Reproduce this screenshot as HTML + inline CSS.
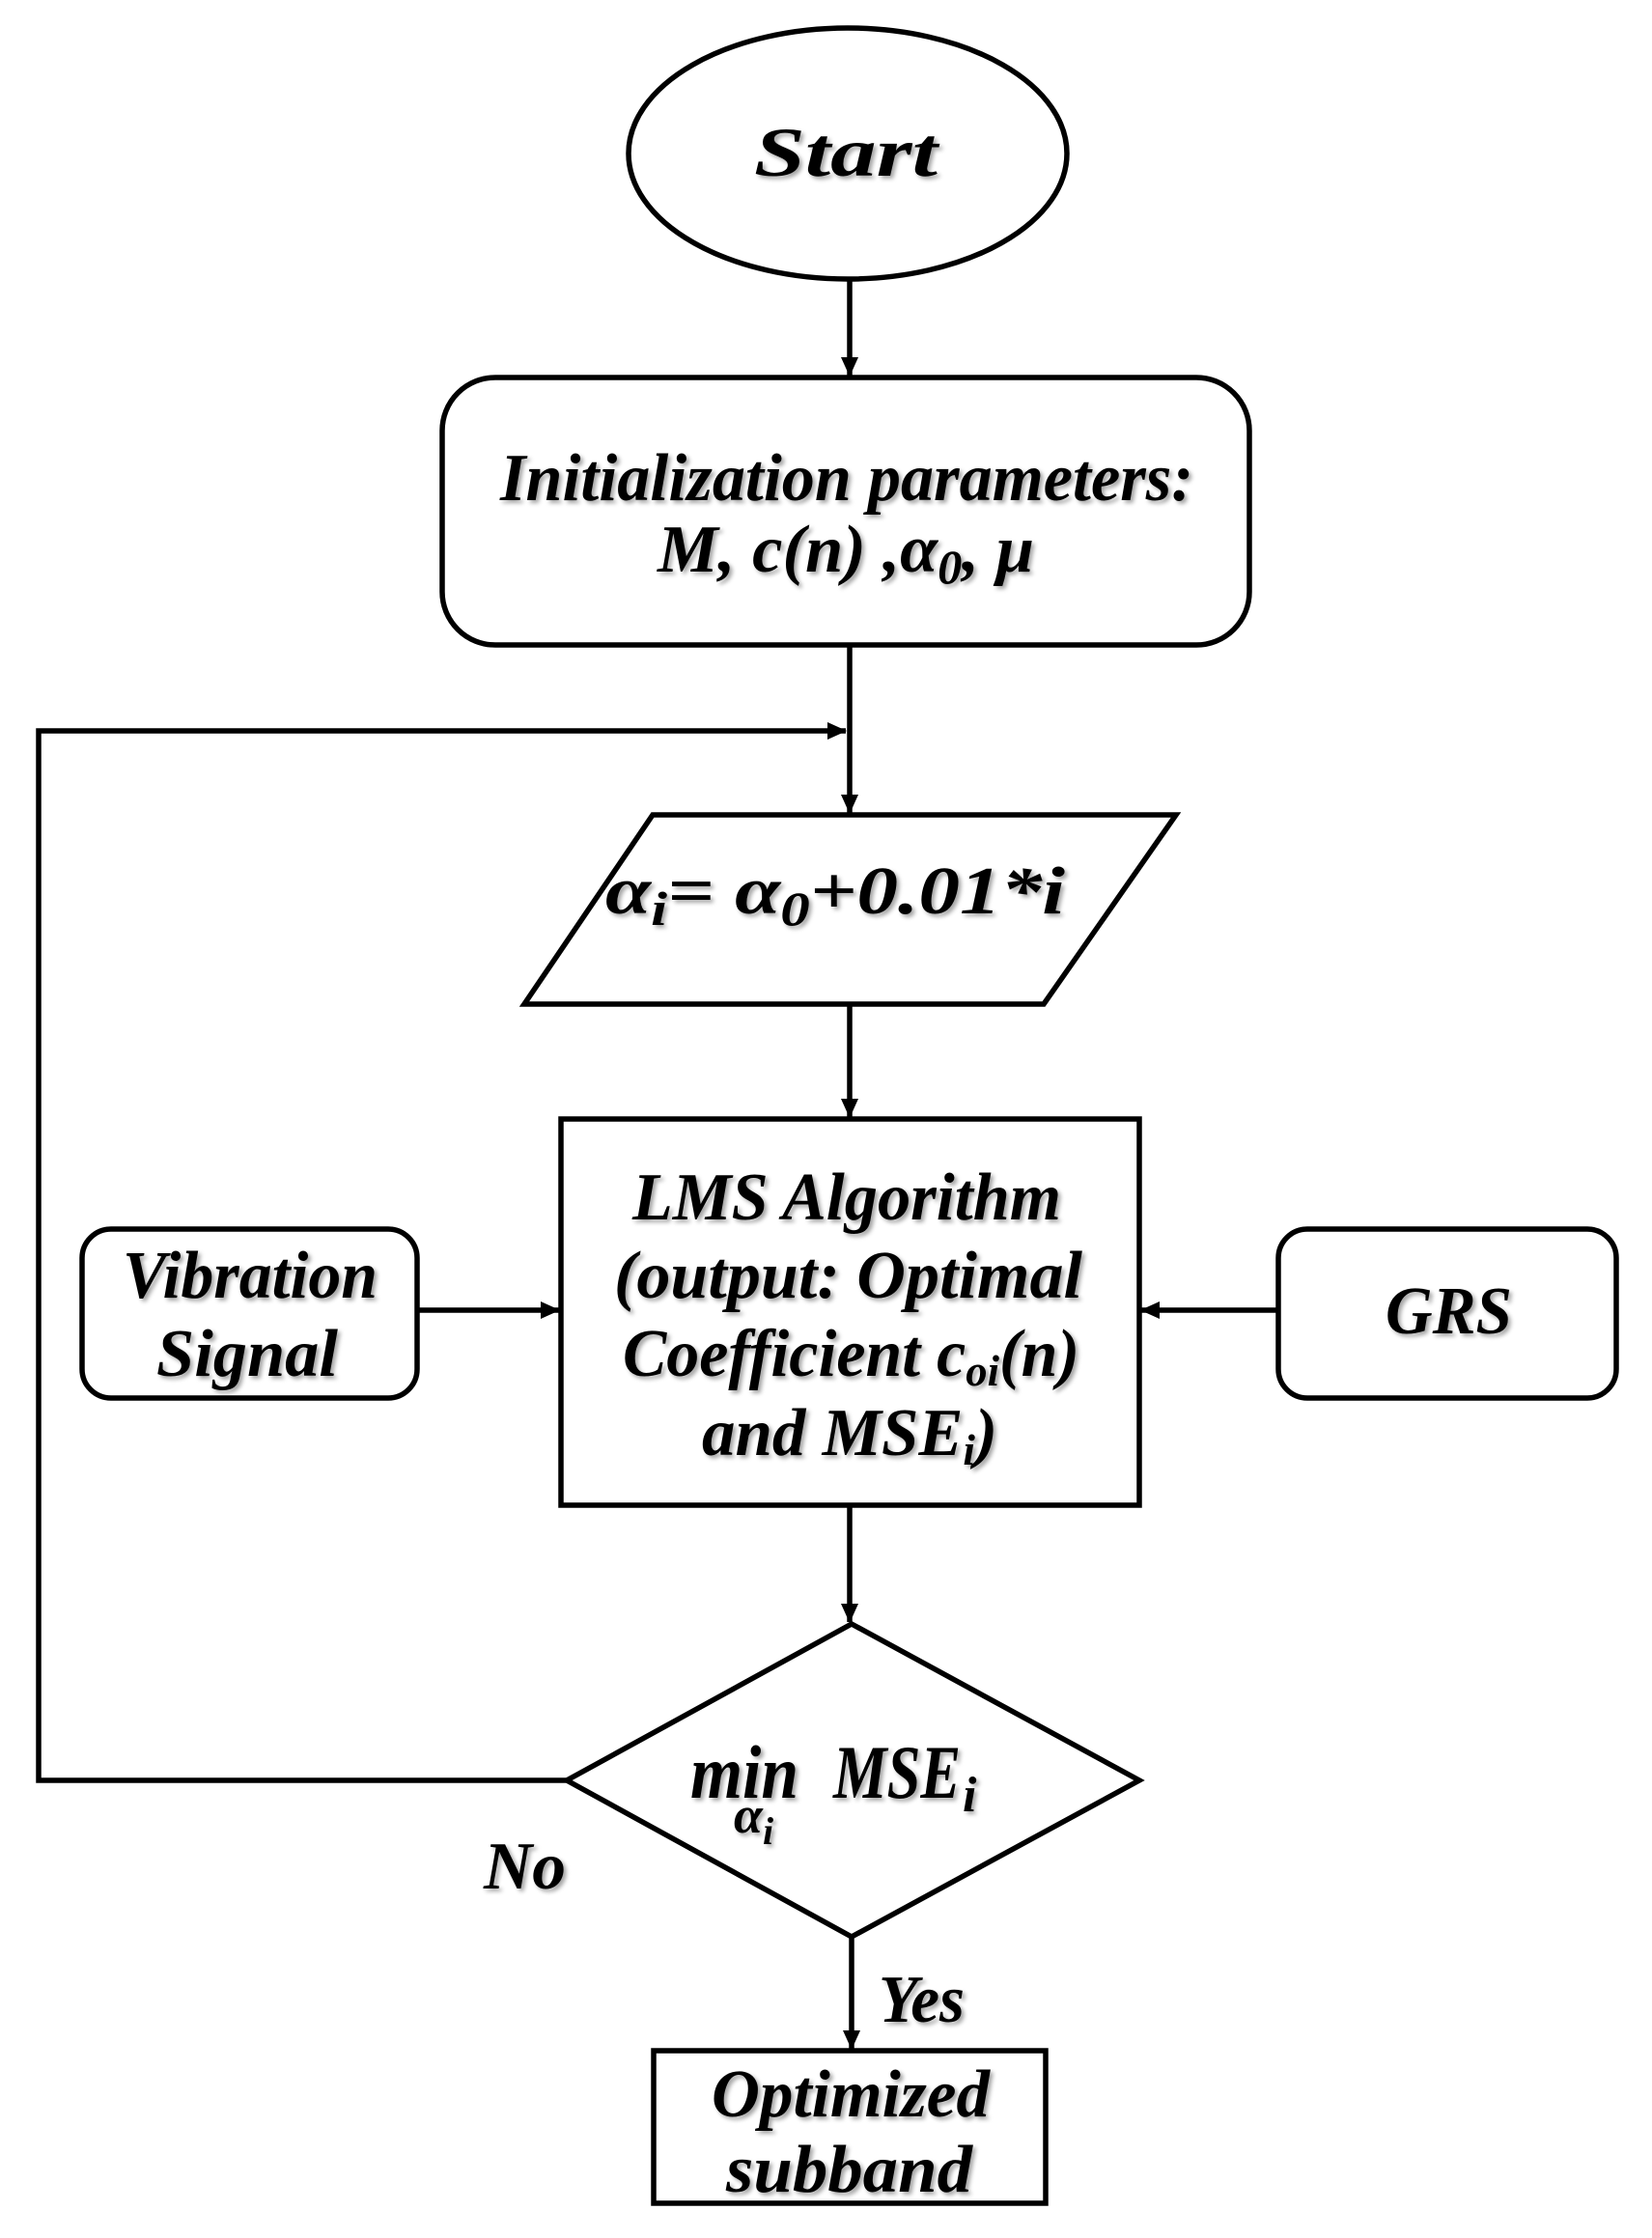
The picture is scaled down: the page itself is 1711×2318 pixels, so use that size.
<!DOCTYPE html>
<html><head><meta charset="utf-8"><style>
html,body{margin:0;padding:0;background:#fff;}
svg{display:block;}
text{font-family:"Liberation Serif",serif;font-weight:bold;font-style:italic;fill:#000;}
</style></head><body>
<svg width="1711" height="2318" viewBox="0 0 1711 2318" xmlns="http://www.w3.org/2000/svg">
<defs>
<filter id="sh" x="-10%" y="-10%" width="120%" height="130%">
<feDropShadow dx="3" dy="3" stdDeviation="2" flood-color="#000" flood-opacity="0.35"/>
</filter>
<marker id="a2" markerWidth="20" markerHeight="18" refX="19" refY="9" orient="auto" markerUnits="userSpaceOnUse" viewBox="0 0 20 18">
<path d="M0,0 L20,9 L0,18 z" fill="#000"/>
</marker>
</defs>
<g fill="none" stroke="#000" stroke-width="5.5">
<ellipse cx="878" cy="159" rx="227" ry="130"/>
<rect x="458" y="391" width="836" height="277" rx="55"/>
<polygon points="676,844 1218,844 1081,1040 543,1040"/>
<rect x="581" y="1159" width="599" height="400"/>
<rect x="85" y="1273" width="347" height="175" rx="30"/>
<rect x="1324" y="1273" width="350" height="175" rx="30"/>
<polygon points="882,1682 1180,1844 882,2006 587,1844"/>
<rect x="677" y="2124" width="406" height="158"/>
<line x1="880" y1="289" x2="880" y2="389" marker-end="url(#a2)"/>
<line x1="880" y1="668" x2="880" y2="842" marker-end="url(#a2)"/>
<line x1="880" y1="1040" x2="880" y2="1157" marker-end="url(#a2)"/>
<line x1="880" y1="1559" x2="880" y2="1680" marker-end="url(#a2)"/>
<line x1="882" y1="2006" x2="882" y2="2122" marker-end="url(#a2)"/>
<line x1="432" y1="1357" x2="579" y2="1357" marker-end="url(#a2)"/>
<line x1="1324" y1="1357" x2="1182" y2="1357" marker-end="url(#a2)"/>
<polyline points="587,1844 40,1844 40,757 876,757" marker-end="url(#a2)"/>
</g>
<g filter="url(#sh)">
<text x="876" y="182" font-size="72" text-anchor="middle" textLength="190" lengthAdjust="spacingAndGlyphs">Start</text>
<text x="518" y="518" font-size="70" textLength="718" lengthAdjust="spacingAndGlyphs">Initialization parameters:</text>
<text x="681" y="592" font-size="70" textLength="390" lengthAdjust="spacingAndGlyphs">M, c(n) ,α<tspan font-size="50" dy="12">0</tspan><tspan dy="-12">, μ</tspan></text>
<text x="627" y="946" font-size="70" textLength="476" lengthAdjust="spacingAndGlyphs">α<tspan font-size="50" dy="12">i</tspan><tspan dy="-12">= α</tspan><tspan font-size="50" dy="12">0</tspan><tspan dy="-12">+0.01*i</tspan></text>
<text x="655" y="1263" font-size="70" textLength="444" lengthAdjust="spacingAndGlyphs">LMS Algorithm</text>
<text x="636" y="1344" font-size="70" textLength="485" lengthAdjust="spacingAndGlyphs">(output: Optimal</text>
<text x="645" y="1425" font-size="70" textLength="473" lengthAdjust="spacingAndGlyphs">Coefficient c<tspan font-size="46" dy="10">oi</tspan><tspan dy="-10">(n)</tspan></text>
<text x="727" y="1507" font-size="70" textLength="306" lengthAdjust="spacingAndGlyphs">and MSE<tspan font-size="46" dy="10">i</tspan><tspan dy="-10">)</tspan></text>
<text x="127" y="1344" font-size="70" textLength="264" lengthAdjust="spacingAndGlyphs">Vibration</text>
<text x="162" y="1425" font-size="70" textLength="188" lengthAdjust="spacingAndGlyphs">Signal</text>
<text x="1435" y="1381" font-size="70" textLength="131" lengthAdjust="spacingAndGlyphs">GRS</text>
<text x="715" y="1862" font-size="78" textLength="112" lengthAdjust="spacingAndGlyphs">min</text>
<text x="863" y="1862" font-size="78" textLength="132" lengthAdjust="spacingAndGlyphs">MSE</text>
<text x="997" y="1876" font-size="52">i</text>
<text x="760" y="1898" font-size="54">α</text>
<text x="790" y="1910" font-size="40">i</text>
<text x="501" y="1956" font-size="70" textLength="85" lengthAdjust="spacingAndGlyphs">No</text>
<text x="910" y="2094" font-size="70" textLength="89" lengthAdjust="spacingAndGlyphs">Yes</text>
<text x="737" y="2192" font-size="70" textLength="288" lengthAdjust="spacingAndGlyphs">Optimized</text>
<text x="752" y="2270" font-size="70" textLength="255" lengthAdjust="spacingAndGlyphs">subband</text>
</g>
</svg>
</body></html>
